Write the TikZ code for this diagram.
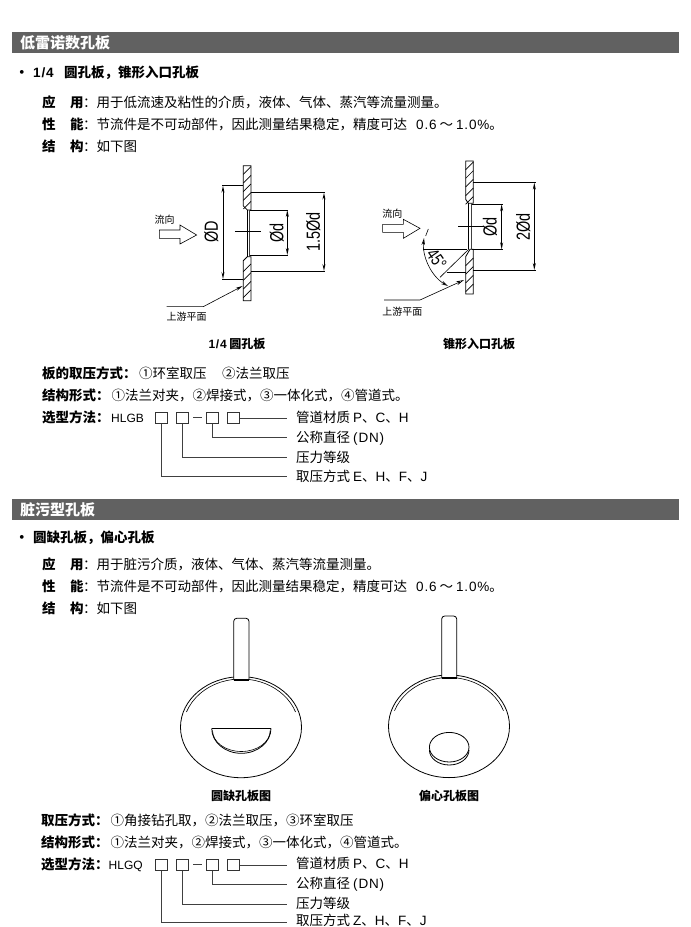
\documentclass[tikz,border=0pt]{standalone}
\usepackage{graphicx}
\usepackage{fontspec}
\setmainfont{Noto Sans CJK SC}
\newfontfamily\latf[LetterSpace=6]{Liberation Sans}
\newfontfamily\plainlat{Liberation Sans}
\newcommand{\la}[1]{{\latf #1}}
\newcommand{\cadt}[1]{\scalebox{.76}[1]{#1}}
\usetikzlibrary{arrows.meta}
\tikzset{
  txt/.style={anchor=base west,inner sep=0pt,font=\fontsize{13.5}{13.5}\selectfont,text=black},
  btxt/.style={txt,font=\fontsize{13.5}{13.5}\selectfont\bfseries},
  band/.style={fill=black!62,draw=none},
  bandtxt/.style={anchor=base west,inner sep=0pt,text=white,font=\fontsize{15}{15}\selectfont\bfseries},
  capt/.style={anchor=base,inner sep=0pt,text=black,font=\fontsize{12}{12}\selectfont\bfseries},
  small/.style={anchor=base,inner sep=0pt,text=black,font=\fontsize{10}{10}\selectfont},
  cad/.style={anchor=center,inner sep=0pt,text=black,font=\plainlat\fontsize{19}{19}\selectfont},
  boxn/.style={draw=black!80,line width=.7pt,minimum width=12pt,minimum height=11pt,inner sep=0pt},
  conn/.style={draw=black!75,line width=.7pt},
  dimn/.style={line width=.6pt,{Stealth[open,length=7pt,width=3pt]}-{Stealth[open,length=7pt,width=3pt]}},
  outl/.style={line width=.8pt,draw=black},
  thin2/.style={line width=.6pt,draw=black},
  hatchl/.style={line width=.7pt,draw=black},
}
\begin{document}
\begin{tikzpicture}[x=1pt,y=-1pt]
\useasboundingbox (0,0) rectangle (691,927);
\fill[white] (0,0) rectangle (691,927);

%=== section 1
\fill[band] (12,32) rectangle (679,53);
\node[bandtxt] (h1) at (20,48) {低雷诺数孔板};
\node[btxt] (b1) at (15,77) {·};
\node[btxt] (s1) at (33,77) {\la{1/4}};
\node[btxt] (s1b) at (64,77) {圆孔板，锥形入口孔板};
\node[btxt] (a1) at (42,107) {应};
\node[btxt] (a2) at (70,107) {用};
\node[txt] (a3) at (83,107) {：用于低流速及粘性的介质，液体、气体、蒸汽等流量测量。};
\node[btxt] (p1) at (42,129) {性};
\node[btxt] (p2) at (70,129) {能};
\node[txt] (p3) at (83,129) {：节流件是不可动部件，因此测量结果稳定，精度可达};
\node[txt] (p4) at (416,129) {\la{0.6} ～ \la{1.0\%}。};
\node[btxt] (c1) at (42,151) {结};
\node[btxt] (c2) at (70,151) {构};
\node[txt] (c3) at (83,151) {：如下图};

%--- quarter-circle plate
\begin{scope}[shift={(130,160)},x=.3333pt,y=-.3333pt]
  \foreach \yy in {20,46,72,98,124,312,338,364,390} \draw[hatchl] (340,\yy+23) -- (363,\yy);
  \draw[outl] (340,17) -- (363,17) -- (363,150) -- (352,150) -- (340,138) -- cycle;
  \draw[outl] (340,422) -- (363,422) -- (363,290) -- (352,290) -- (340,302) -- cycle;
  \draw[line width=1.3pt,draw=black!75] (358,150) -- (358,290);
  \draw[thin2] (352,150) -- (352,290);
  % dimension lines
  \draw[thin2] (340,77) -- (275,77) (340,357) -- (275,357);
  \draw[dimn] (279,77) -- (279,357);
  \draw[thin2] (363,98) -- (585,98) (363,333) -- (585,333);
  \draw[dimn] (582,98) -- (582,333);
  \draw[thin2] (360,150) -- (475,150) (360,285) -- (475,285);
  \draw[dimn] (472,150) -- (472,285);
  \draw[thin2] (315,215) -- (393,215);
  \node[cad,rotate=90] (dD) at (244,215) {\cadt{ØD}};
  \node[cad,rotate=90] (dd) at (440,218) {\cadt{Ød}};
  \node[cad,rotate=90] (d15) at (550,215) {\cadt{1.5Ød}};
  % flow arrow
  \draw[thin2] (88,210) -- (150,210) -- (150,195) -- (200,225) -- (150,252) -- (150,235) -- (88,235) -- cycle;
  \node[small] (f1) at (104,192) {流向};
  \coordinate (u1) at (110,440);
  \coordinate (u2) at (220,440);
  \coordinate (u3) at (338,378);
  \draw[thin2,-{Stealth[length=7pt,width=3pt]}] (u1) -- (u2) -- (u3);
  \node[small] (u4) at (170,482) {上游平面};
\end{scope}
\node[capt] (cap1) at (237,348) {\la{1/4} 圆孔板};

%--- conical plate
\begin{scope}[shift={(360,160)},x=.3333pt,y=-.3333pt]
  \foreach \yy in {6,32,58,84,110,294,320,346,372} \draw[hatchl] (317,\yy+23) -- (340,\yy);
  \draw[outl] (317,3) -- (340,3) -- (340,130) -- (325,130) -- (317,118) -- cycle;
  \draw[outl] (317,402) -- (340,402) -- (340,268) -- (330,268) -- (317,290) -- cycle;
  \draw[thin2] (325,130) -- (325,268);
  \draw[line width=1.1pt,draw=black!75] (334,130) -- (334,268);
  \draw[thin2] (340,68) -- (527,68) (340,330) -- (527,330);
  \draw[dimn] (523,68) -- (523,330);
  \draw[thin2] (335,133) -- (428,133) (335,268) -- (428,268);
  \draw[dimn] (425,133) -- (425,268);
  \draw[thin2] (295,200) -- (372,200);
  \node[cad,rotate=90] (ed) at (390,200) {\cadt{Ød}};
  \node[cad,rotate=90] (e2) at (490,200) {\cadt{2Ød}};
  \draw[thin2] (68,193) -- (130,193) -- (130,178) -- (180,205) -- (130,235) -- (130,217) -- (68,217) -- cycle;
  \node[small] (g1) at (97,172) {流向};
  % 45 degree
  \draw[thin2] (190,268) -- (320,268);
  \draw[thin2] (326,268) -- (240,352);
  \draw[thin2] (260,338) -- (317,338);
  \draw[thin2] (205,207) -- (197,228);
  \draw[thin2,{Stealth[open,length=7pt,width=3.5pt]}-{Stealth[open,length=7pt,width=3.5pt]}] (192,234) .. controls (186,290) and (215,350) .. (264,378);
  \node[cad,rotate=-55,font=\plainlat\fontsize{18}{18}\selectfont] (ang) at (230,297) {\cadt{45°}};
  \coordinate (v1) at (72,420);
  \coordinate (v2) at (180,420);
  \coordinate (v3) at (312,360);
  \draw[thin2,-{Stealth[open,length=8pt,width=4pt]}] (v1) -- (v2) -- (v3);
  \node[small] (v4) at (127,468) {上游平面};
\end{scope}
\node[capt] (cap2) at (479,348) {锥形入口孔板};

\node[btxt] (k1) at (42,378) {板的取压方式：};
\node[txt] (k2) at (139,378) {①环室取压};
\node[txt] (k3) at (222,378) {②法兰取压};
\node[btxt] (k4) at (42,400) {结构形式：};
\node[txt] (k5) at (111.5,400) {①法兰对夹，②焊接式，③一体化式，④管道式。};
\node[btxt] (k6) at (42,422) {选型方法：};
\node[txt,font=\plainlat\fontsize{12}{12}\selectfont] (k7) at (111,422) {HLGB};

\node[boxn] (q1) at (161.7,418) {};
\node[boxn] (q2) at (182.7,418) {};
\node[boxn] (q3) at (212.7,418) {};
\node[boxn] (q4) at (233.7,418) {};
\draw[conn] (193,417.7) -- (201.7,417.7);
\node[txt] (l1) at (296,422) {管道材质 \la{P}、\la{C}、\la{H}};
\node[txt] (l2) at (296,442) {公称直径 \la{(DN)}};
\node[txt] (l3) at (296,462) {压力等级};
\node[txt] (l4) at (296,481) {取压方式 \la{E}、\la{H}、\la{F}、\la{J}};
\coordinate (e1) at (286.7,418);
\coordinate (e2) at (286.7,437.3);
\coordinate (e3) at (286.7,457.7);
\coordinate (e4) at (286.7,476);
\draw[conn] (q4.east) -- (e1);
\draw[conn] (q3.south) |- (e2);
\draw[conn] (q2.south) |- (e3);
\draw[conn] (q1.south) |- (e4);

%=== section 2
\fill[band] (12,499) rectangle (679,520);
\node[bandtxt] (h2) at (20,515) {脏污型孔板};
\node[btxt] (b2) at (15,542) {·};
\node[btxt] (s2) at (33,542) {圆缺孔板，偏心孔板};
\node[btxt] (m1) at (42,569) {应};
\node[btxt] (m2) at (70,569) {用};
\node[txt] (m3) at (83,569) {：用于脏污介质，液体、气体、蒸汽等流量测量。};
\node[btxt] (n1) at (42,591) {性};
\node[btxt] (n2) at (70,591) {能};
\node[txt] (n3) at (83,591) {：节流件是不可动部件，因此测量结果稳定，精度可达};
\node[txt] (n4) at (416,591) {\la{0.6} ～ \la{1.0\%}。};
\node[btxt] (o1) at (42,613) {结};
\node[btxt] (o2) at (70,613) {构};
\node[txt] (o3) at (83,613) {：如下图};

%--- segmental plate
\draw[outl] (241,727.2) ellipse [x radius=60.5pt,y radius=50.5pt];
\draw[thin2] (241,729) ++(20:58pt and 50pt) arc [start angle=20,end angle=160,x radius=58pt,y radius=50pt];
\draw[outl,fill=white,rounded corners=3pt] (233.7,680) -- (233.7,618.3) -- (249,618.3) -- (249,680);
\draw[line width=1.2pt] (233.7,680) -- (249,680);
\draw[outl] (211.7,728.3) -- (271,728.3);
\draw[outl] (211.7,728.3) arc [start angle=180,end angle=360,x radius=29.65pt,y radius=25pt];
\draw[thin2] (212.5,730.5) arc [start angle=180,end angle=360,x radius=28.85pt,y radius=21pt];

%--- eccentric plate
\draw[outl] (449,726.3) ellipse [x radius=60.5pt,y radius=51.3pt];
\draw[thin2] (449,728) ++(20:58pt and 50.5pt) arc [start angle=20,end angle=160,x radius=58pt,y radius=50.5pt];
\draw[outl,fill=white,rounded corners=3pt] (441.7,678) -- (441.7,616) -- (456.7,616) -- (456.7,678);
\draw[line width=1.2pt] (441.7,678) -- (456.7,678);
\draw[outl] (449.2,747.2) ellipse [x radius=19.8pt,y radius=14.8pt];
\draw[outl] (429.4,750) arc [start angle=180,end angle=360,x radius=19.8pt,y radius=15pt];

\node[capt] (cap3) at (241,800) {圆缺孔板图};
\node[capt] (cap4) at (449,800) {偏心孔板图};

\node[btxt] (r1) at (41,825) {取压方式：};
\node[txt] (r2) at (110.5,825) {①角接钻孔取，②法兰取压，③环室取压};
\node[btxt] (r3) at (41,847) {结构形式：};
\node[txt] (r4) at (110.5,847) {①法兰对夹，②焊接式，③一体化式，④管道式。};
\node[btxt] (r5) at (41,869) {选型方法：};
\node[txt,font=\plainlat\fontsize{12}{12}\selectfont] (r6) at (108.5,869) {HLGQ};

\node[boxn] (w1) at (161.7,865) {};
\node[boxn] (w2) at (182.7,865) {};
\node[boxn] (w3) at (212.7,865) {};
\node[boxn] (w4) at (233.7,865) {};
\draw[conn] (193,864.5) -- (201.7,864.5);
\node[txt] (z1) at (296,868) {管道材质 \la{P}、\la{C}、\la{H}};
\node[txt] (z2) at (296,888) {公称直径 \la{(DN)}};
\node[txt] (z3) at (296,908) {压力等级};
\node[txt] (z4) at (296,925) {取压方式 \la{Z}、\la{H}、\la{F}、\la{J}};
\coordinate (y1) at (286.7,865);
\coordinate (y2) at (286.7,884.7);
\coordinate (y3) at (286.7,904.3);
\coordinate (y4) at (286.7,922.7);
\draw[conn] (w4.east) -- (y1);
\draw[conn] (w3.south) |- (y2);
\draw[conn] (w2.south) |- (y3);
\draw[conn] (w1.south) |- (y4);
\end{tikzpicture}
\end{document}
